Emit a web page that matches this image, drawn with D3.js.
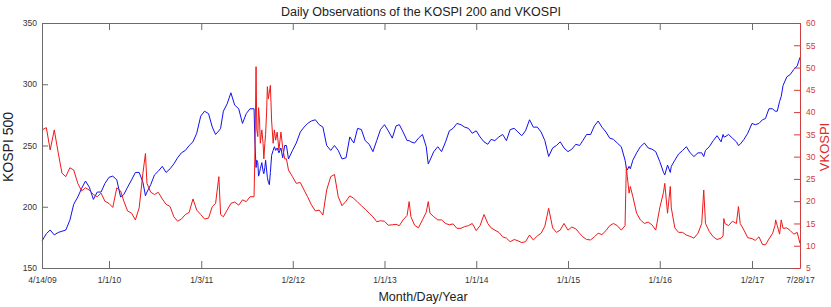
<!DOCTYPE html>
<html><head><meta charset="utf-8">
<script src="https://cdn.jsdelivr.net/npm/d3@7"></script>
<style>
body{margin:0;background:#fff}
svg{display:block}
text{font-family:"Liberation Sans",Arial,Helvetica,sans-serif}
</style>
</head><body>
<svg id="chart" width="831" height="307"></svg>
<script>
const dates = [
"2009-04-14","2009-05-01","2009-05-16","2009-06-01","2009-06-16","2009-07-01","2009-07-16","2009-08-01","2009-08-16","2009-09-01","2009-09-16","2009-10-01","2009-10-16","2009-11-01","2009-11-16","2009-12-01","2009-12-16",
"2010-01-01","2010-01-16","2010-02-01","2010-02-16","2010-03-01","2010-03-16","2010-04-01","2010-04-16","2010-05-01","2010-05-16","2010-05-26","2010-06-01","2010-06-16","2010-07-01","2010-07-16","2010-08-01","2010-08-16","2010-09-01","2010-09-16","2010-10-01","2010-10-16","2010-11-01","2010-11-16","2010-12-01","2010-12-16",
"2011-01-01","2011-01-16","2011-02-01","2011-02-16","2011-03-01","2011-03-14","2011-03-21","2011-04-01","2011-04-16","2011-05-01","2011-05-16","2011-06-01","2011-06-16","2011-07-01","2011-07-16","2011-08-01","2011-08-05","2011-08-09","2011-08-12","2011-08-16","2011-08-19","2011-08-23","2011-08-26","2011-09-01","2011-09-06","2011-09-09","2011-09-13","2011-09-16","2011-09-20","2011-09-23","2011-09-27","2011-10-01","2011-10-05","2011-10-10","2011-10-16","2011-10-21","2011-10-26","2011-11-01","2011-11-08","2011-11-16","2011-11-23","2011-12-01","2011-12-08","2011-12-16",
"2012-01-01","2012-01-16","2012-02-01","2012-02-16","2012-03-01","2012-03-16","2012-04-01","2012-04-16","2012-05-01","2012-05-16","2012-06-01","2012-06-16","2012-07-01","2012-07-16","2012-08-01","2012-08-16","2012-09-01","2012-09-16","2012-10-01","2012-10-16","2012-11-01","2012-11-16","2012-12-01","2012-12-16",
"2013-01-01","2013-01-16","2013-02-01","2013-02-16","2013-03-01","2013-03-16","2013-04-01","2013-04-09","2013-04-16","2013-05-01","2013-05-16","2013-06-01","2013-06-16","2013-06-24","2013-07-01","2013-07-16","2013-08-01","2013-08-16","2013-09-01","2013-09-16","2013-10-01","2013-10-16","2013-11-01","2013-11-16","2013-12-01","2013-12-16",
"2014-01-01","2014-01-16","2014-02-01","2014-02-16","2014-03-01","2014-03-16","2014-04-01","2014-04-16","2014-05-01","2014-05-16","2014-06-01","2014-06-16","2014-07-01","2014-07-16","2014-08-01","2014-08-16","2014-09-01","2014-09-16","2014-10-01","2014-10-16","2014-11-01","2014-11-16","2014-12-01","2014-12-16",
"2015-01-01","2015-01-16","2015-02-01","2015-02-16","2015-03-01","2015-03-16","2015-04-01","2015-04-16","2015-05-01","2015-05-16","2015-06-01","2015-06-16","2015-07-01","2015-07-16","2015-08-01","2015-08-16","2015-08-21","2015-08-25","2015-09-01","2015-09-06","2015-09-16","2015-10-01","2015-10-16","2015-11-01","2015-11-16","2015-12-01","2015-12-16",
"2016-01-01","2016-01-16","2016-01-21","2016-02-01","2016-02-12","2016-02-16","2016-03-01","2016-03-16","2016-04-01","2016-04-16","2016-05-01","2016-05-16","2016-06-01","2016-06-16","2016-06-24","2016-07-01","2016-07-16","2016-08-01","2016-08-16","2016-09-01","2016-09-09","2016-09-12","2016-09-16","2016-10-01","2016-10-16","2016-11-01","2016-11-09","2016-11-16","2016-12-01","2016-12-16",
"2017-01-02","2017-01-16","2017-02-01","2017-02-16","2017-03-01","2017-03-16","2017-04-01","2017-04-11","2017-04-14","2017-04-21","2017-05-01","2017-05-08","2017-05-16","2017-06-01","2017-06-16","2017-07-01","2017-07-16","2017-07-28"
];
const kospi200 = [
172,178,181,177,179,180,181,189,202,208,215,221,216,206,212,212,219,
224,225,222,208,210,216,222,228,228,220,209,212,218,226,229,233,228,231,235,240,244,246,250,253,260,
274,278,276,265,259,262,264,278,284,293,283,280,268,276,280,280,250,232,238,236,225,228,231,236,229,227,232,238,230,224,220,218,228,242,246,249,246,248,244,248,240,250,250,239,
246,252,261,265,268,270,271,267,265,250,246,250,246,239,240,257,252,264,263,254,251,245,254,263,
267,262,256,266,267,261,254,254,253,252,256,259,249,235,238,245,249,245,253,262,264,268,267,265,264,260,
262,257,253,251,255,254,257,259,254,263,264,261,258,262,271,265,265,261,254,241,248,250,253,248,
245,247,251,250,254,259,259,266,270,265,261,256,255,252,249,238,232,230,233,231,238,244,249,252,248,247,245,
237,228,226,234,228,233,238,243,246,249,244,241,244,244,241,246,249,254,258,253,259,257,257,259,256,253,250,251,255,260,
268,267,268,271,272,280,280,278,278,278,286,290,299,306,308,312,315,322
];
const vkospi = [
36.0,36.5,31.5,36.0,31.0,26.3,25.5,27.5,27.0,24.0,22.3,23.0,22.5,21.5,21.0,21.8,20.0,
19.5,18.6,23.0,22.3,20.0,17.8,17.3,15.8,18.5,26.3,30.7,24.0,22.0,21.5,22.0,20.5,19.3,18.8,16.5,15.5,16.0,17.0,17.5,20.5,18.0,
17.0,16.0,16.2,18.8,19.5,25.5,17.0,16.5,18.0,19.5,19.8,19.1,20.3,19.9,21.0,21.0,32,50.2,36,34.5,41,38,33,36,33,29.5,33,35,40,45.7,43,44.5,46,38,33,36,33.7,35.5,31.5,35.5,32,29.5,29.5,27,
25.5,24.0,24.2,22.5,21.0,19.2,17.8,18.0,16.9,22.5,25.5,26.0,21.0,19.0,20.0,21.2,20.6,19.8,19.0,18.2,17.3,16.5,15.4,15.6,
15.5,14.6,14.7,14.8,14.5,15.8,16.8,19.9,16.5,14.6,14.0,15.8,17.5,19.9,17.3,16.5,15.8,15.8,15.0,14.7,14.9,13.9,13.9,14.3,14.5,15.0,
13.4,14.5,17.0,15.0,14.0,13.5,13.0,12.0,11.7,10.9,11.4,11.1,10.7,10.9,12.4,11.3,12.2,12.8,14.4,18.4,14.0,13.0,13.5,15.0,
13.5,14.2,13.8,12.8,12.0,11.4,11.3,12.0,12.8,12.5,13.4,14.5,15.0,14.5,13.5,14.5,27.7,25.5,21.8,23.3,21.0,17.3,15.8,15.0,15.3,14.7,13.5,
18.5,22.0,24.0,17.3,23.3,18.5,14.0,13.0,13.0,12.4,12.1,11.7,12.8,15.0,22.5,15.0,13.2,12.0,11.4,11.7,12.2,16.1,15.0,14.5,15.5,15.0,18.8,15.0,13.5,11.8,
11.6,11.2,12.0,10.3,10.2,11.5,12.8,14.5,15.8,14.5,12.6,15.8,13.9,14.0,13.4,12.6,13.0,10.5
];
const xTickDates = ["2009-04-14","2010-01-01","2011-01-03","2012-01-02","2013-01-01","2014-01-01","2015-01-01","2016-01-01","2017-01-02","2017-07-28"];
const xTickLabels = ["4/14/09","1/1/10","1/3/11","1/2/12","1/1/13","1/1/14","1/1/15","1/1/16","1/2/17","7/28/17"];
const leftTicks = [150,200,250,300,350];
const rightTicks = [5,10,15,20,25,30,35,40,45,50,55,60];

const parse = d3.timeParse("%Y-%m-%d");
const L = 42, R = 800, T = 23, B = 268;
const greyAxis = "#6b6b6b", redAxis = "#d23c3c";

const svg = d3.select("#chart");
const tickD = xTickDates.map(parse);
const x = d3.scaleTime()
  .domain([tickD[0], tickD[1], tickD[8], tickD[9]])
  .range([L, 109, 752, R]);
const yL = d3.scaleLinear().domain([150, 350]).range([B, T]);
const yR = d3.scaleLinear().domain([5, 60]).range([B, T]);

const pts = dates.map((d, i) => ({d: parse(d), k: kospi200[i], v: vkospi[i]}));

// lines
const plot = svg.append("g");
plot.append("path").datum(pts)
  .attr("fill", "none").attr("stroke", "#1010f0").attr("stroke-width", 1)
  .attr("stroke-linejoin", "round")
  .attr("d", d3.line().x(p => x(p.d)).y(p => yL(p.k)));
plot.append("path").datum(pts)
  .attr("fill", "none").attr("stroke", "#f01818").attr("stroke-width", 1)
  .attr("stroke-linejoin", "round")
  .attr("d", d3.line().x(p => x(p.d)).y(p => yR(p.v)));

function style(g, color, textColor) {
  g.selectAll(".domain").attr("stroke", color).attr("stroke-width", 1);
  g.selectAll(".tick line").attr("stroke", color).attr("stroke-width", 1);
  g.selectAll(".tick text").attr("fill", textColor).style("font-size", "8.5px")
    .style("font-family", '"Liberation Sans", Arial, Helvetica, sans-serif');
}

// bottom axis
const gb = svg.append("g").attr("transform", `translate(0,${B})`)
  .call(d3.axisBottom(x).tickValues(tickD).tickFormat((d, i) => xTickLabels[i])
    .tickSizeInner(-7).tickSizeOuter(0).tickPadding(9));
style(gb, greyAxis, "#333");

// top axis
const gt = svg.append("g").attr("transform", `translate(0,${T})`)
  .call(d3.axisTop(x).tickValues(tickD).tickFormat("")
    .tickSizeInner(-7).tickSizeOuter(0));
style(gt, greyAxis, "#333");

// left axis
const gl = svg.append("g").attr("transform", `translate(${L},0)`)
  .call(d3.axisLeft(yL).tickValues(leftTicks).tickFormat(d3.format("d"))
    .tickSizeInner(-6).tickSizeOuter(0).tickPadding(5));
style(gl, greyAxis, "#333");

// right axis
const gr = svg.append("g").attr("transform", `translate(${R},0)`)
  .call(d3.axisRight(yR).tickValues(rightTicks).tickFormat(d3.format("d"))
    .tickSizeInner(-6).tickSizeOuter(0).tickPadding(6));
style(gr, redAxis, redAxis);

// title and labels
svg.append("text").attr("x", 421).attr("y", 16).attr("text-anchor", "middle")
  .attr("fill", "#222").style("font-size", "12.5px")
  .text("Daily Observations of the KOSPI 200 and VKOSPI");
svg.append("text").attr("x", 423).attr("y", 301).attr("text-anchor", "middle")
  .attr("fill", "#222").style("font-size", "12.5px")
  .text("Month/Day/Year");
svg.append("text").attr("transform", "translate(13,147) rotate(-90)")
  .attr("text-anchor", "middle").attr("fill", "#222").style("font-size", "14px")
  .text("KOSPI 500");
svg.append("text").attr("transform", "translate(829,147) rotate(-90)")
  .attr("text-anchor", "middle").attr("fill", "#e02828").style("font-size", "13px")
  .text("VKOSPI");
</script>
</body></html>
